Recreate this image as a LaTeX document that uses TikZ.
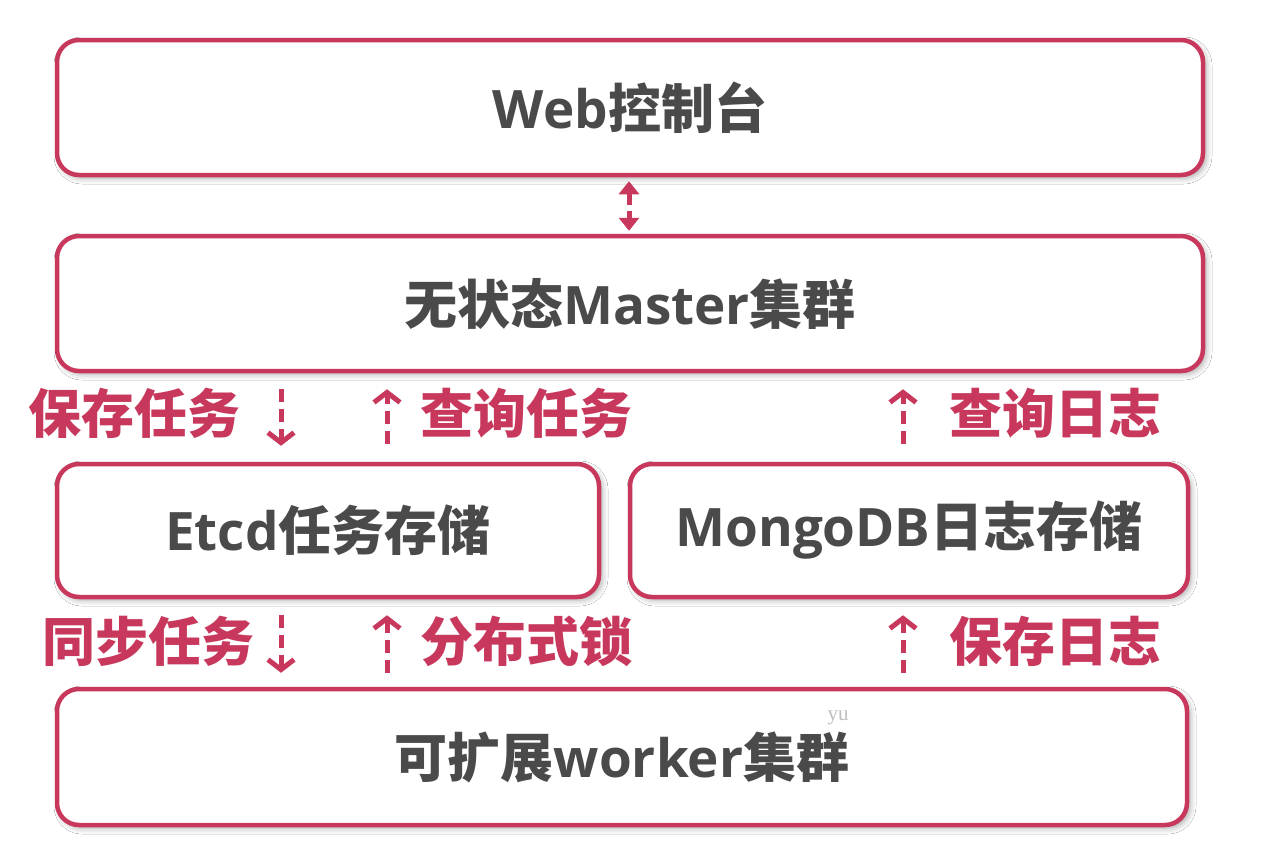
\documentclass[tikz,border=0pt]{standalone}
\usepackage{fontspec}
\setmainfont{Noto Sans CJK SC}
\newfontfamily\latf{Open Sans}
\newfontfamily\wmark{Liberation Serif}
\usetikzlibrary{arrows.meta,shadows.blur}
\definecolor{rosered}{RGB}{200,56,92}
\definecolor{txtgray}{RGB}{74,74,74}
\newcommand{\lt}[1]{{\latf\bfseries #1}}
\tikzset{
  box/.style={draw=rosered, line width=4.5pt, fill=white, rounded corners=22pt,
    text=txtgray, font=\bfseries\fontsize{53}{60}\selectfont,
    blur shadow={shadow xshift=3pt, shadow yshift=-3pt, shadow blur radius=6pt, shadow opacity=35}},
  lbl/.style={text=rosered, font=\bfseries\fontsize{53}{60}\selectfont},
  darr/.style={draw=rosered, line width=5pt, dash pattern=on 13pt off 7pt,
    -{Straight Barb[length=10pt,width=26pt]}},
  biarr/.style={draw=rosered, line width=5pt, dash pattern=on 12pt off 6pt,
    {Triangle[length=13pt,width=20pt]}-{Triangle[length=13pt,width=20pt]}},
}
\begin{document}
\begin{tikzpicture}[x=1pt,y=-1pt]
\useasboundingbox (0,0) rectangle (1275,852);
\fill[white] (0,0) rectangle (1275,852);
\node[box, minimum width=1146pt, minimum height=135pt] (web) at (630,107.5) {\lt{Web}控制台};
\node[box, minimum width=1146pt, minimum height=135pt] (master) at (630,303.5) {无状态\lt{Master}集群};
\node[box, minimum width=542pt, minimum height=133pt] (etcd) at (328,530.5) {\lt{Etcd}任务存储};
\node[box, minimum width=558pt, minimum height=133pt] (mongo) at (909,530.5) {\lt{MongoDB}日志存储};
\node[box, minimum width=1130pt, minimum height=136pt] (worker) at (622,757) {可扩展\lt{worker}集群};
\node[text=black!25, font=\wmark\fontsize{21}{21}\selectfont] (wm) at (838,718) {yu};
\coordinate (xa) at (281,0);
\coordinate (xb) at (387,0);
\coordinate (xc) at (903,0);
\coordinate (xd) at (629,0);
\draw[biarr, shorten <=4pt, shorten >=3pt] (web.south -| xd) -- (master.north -| xd);
\draw[darr, shorten <=16pt, shorten >=16pt] (master.south -| xa) -- (etcd.north -| xa);
\draw[darr, shorten <=18pt, shorten >=16pt] (etcd.north -| xb) -- (master.south -| xb);
\draw[darr, shorten <=18pt, shorten >=16pt] (mongo.north -| xc) -- (master.south -| xc);
\draw[darr, shorten <=16pt, shorten >=14pt] (etcd.south -| xa) -- (worker.north -| xa);
\draw[darr, shorten <=14pt, shorten >=16pt] (worker.north -| xb) -- (etcd.south -| xb);
\draw[darr, shorten <=14pt, shorten >=16pt] (worker.north -| xc) -- (mongo.south -| xc);
\node[lbl] (l1) at (134,413) {保存任务};
\node[lbl] (l2) at (526,413) {查询任务};
\node[lbl] (l3) at (1055,413) {查询日志};
\node[lbl] (l4) at (148,641) {同步任务};
\node[lbl] (l5) at (526,641) {分布式锁};
\node[lbl] (l6) at (1055,641) {保存日志};
\end{tikzpicture}
\end{document}
